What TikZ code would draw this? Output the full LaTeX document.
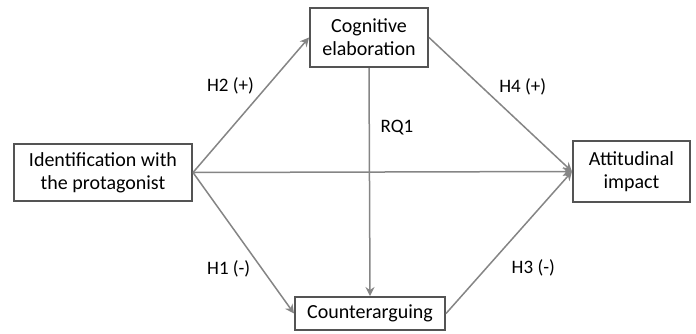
\documentclass[tikz,border=0pt]{standalone}
\usepackage{fontspec}
\setmainfont{Carlito}
\usetikzlibrary{arrows.meta}
\definecolor{boxline}{rgb}{0.33, 0.33, 0.33}
\definecolor{arrowline}{rgb}{0.52, 0.52, 0.52}
\tikzset{
    construct/.style={draw=boxline, line width=1pt, rectangle, align=center,
        font=\fontsize{10}{11.5}\selectfont, inner sep=0pt},
    path/.style={draw=arrowline, line width=0.75pt,
        -{Stealth[length=4.5pt, width=4.5pt, inset=1.5pt]}},
    hyp/.style={font=\fontsize{9.5}{10}\selectfont, text=black}
}

\begin{document}
\begin{tikzpicture}[x=0.5pt, y=-0.5pt]
    \useasboundingbox (0,0) rectangle (696,333);

    \node[construct, minimum width=89pt, minimum height=28.5pt] (ident) at (103,172.5) {Identification with\\the protagonist};
    \node[construct, minimum width=59pt, minimum height=29.5pt] (cog) at (369,37.5) {Cognitive\\elaboration};
    \node[construct, minimum width=58.5pt, minimum height=30.5pt] (att) at (631.5,171.5) {Attitudinal\\impact};
    \node[construct, minimum width=75pt, minimum height=16.5pt] (counter) at (370,313.5) {Counterarguing};

    % hypothesised paths
    \draw[path] (ident.east) -- node[hyp, pos=0.64, left=3pt] {H2 (+)} (cog.west);
    \draw[path] (ident.east) -- node[hyp, pos=0.68, left=2pt] {H1 (-)} (counter.west);
    \draw[path] (ident.east) -- (att.west);
    \draw[path] (cog.south) -- node[hyp, pos=0.26, right=2pt] {RQ1} (counter.north);
    \draw[path] (cog.east) -- node[hyp, pos=0.37, right=5pt] {H4 (+)} (att.west);
    \draw[path] (counter.east) -- node[hyp, pos=0.32, right=9pt] {H3 (-)} (att.west);

\end{tikzpicture}
\end{document}
